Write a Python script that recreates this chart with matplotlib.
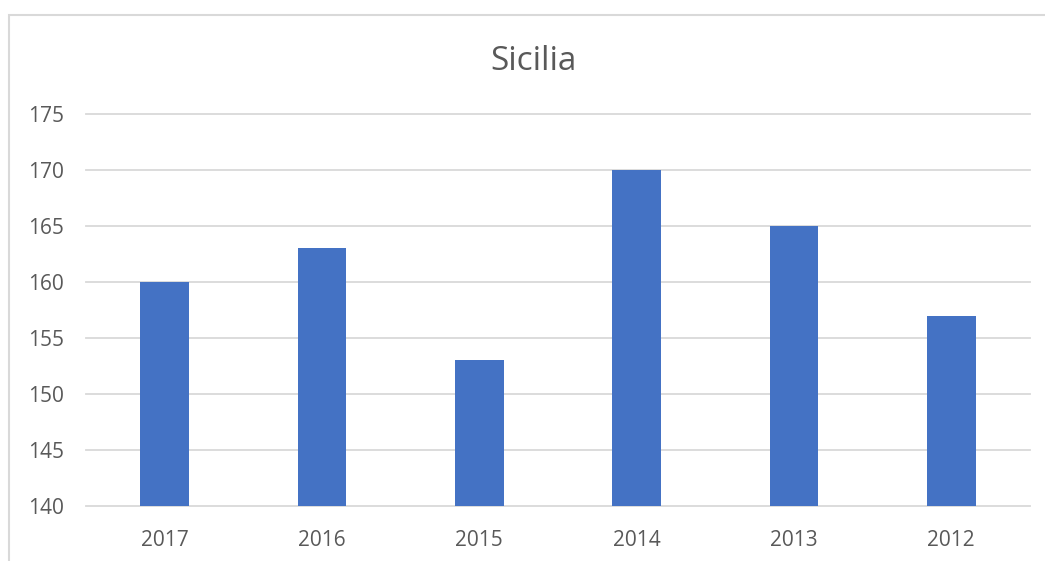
import matplotlib.pyplot as plt
from matplotlib.patches import Rectangle

years = ["2017", "2016", "2015", "2014", "2013", "2012"]
values = [160, 163, 153, 170, 165, 157]

plt.rcParams['font.family'] = ['Open Sans', 'DejaVu Sans']

fig = plt.figure(figsize=(10.45, 5.61), dpi=100)
ax = fig.add_axes([0.0823, 0.098, 0.9033, 0.6988])

ax.bar(range(len(years)), values, width=0.31, color="#4472c4", zorder=3)
ax.set_ylim(140, 175)
ax.set_xlim(-0.5, len(years) - 0.5)
ax.set_yticks(range(140, 176, 5))
ax.set_xticks(range(len(years)))
ax.set_xticklabels(years)

ax.grid(axis="y", color="#d9d9d9", linewidth=1.3, zorder=0)
for gl in ax.get_ygridlines():
    gl.set_clip_on(False)
for s in ax.spines.values():
    s.set_visible(False)
ax.tick_params(length=0, labelsize=15, labelcolor="#595959")
ax.tick_params(axis="y", pad=16)
ax.tick_params(axis="x", pad=17)

fig.text(0.511, 0.89, "Sicilia", ha="center", va="center", fontsize=24, color="#595959")

# chart frame
fig.patches.append(Rectangle((9 / 1045, -0.1), 1.2, 1 - 15 / 561 + 0.1,
                             transform=fig.transFigure, fill=False,
                             edgecolor="#d9d9d9", linewidth=1.5))

fig.savefig("out.png", dpi=100)
